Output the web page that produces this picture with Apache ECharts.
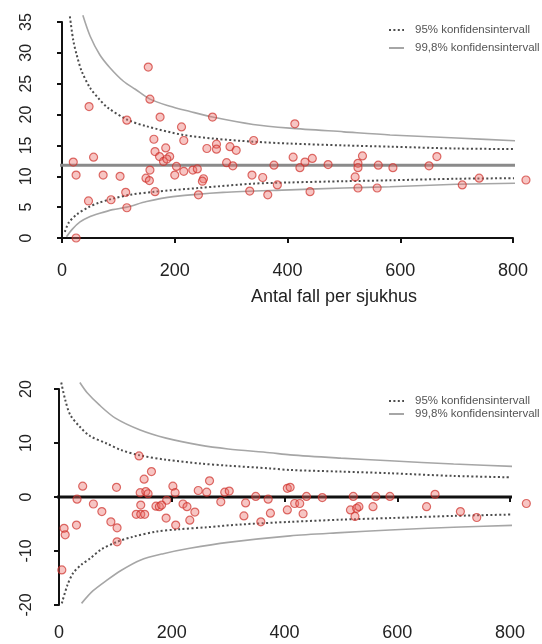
<!DOCTYPE html>
<html>
<head>
<meta charset="utf-8">
<script src="https://cdn.jsdelivr.net/npm/echarts@6/dist/echarts.min.js"></script>
<style>
  html, body { margin: 0; padding: 0; background: #ffffff; }
  #chart { width: 542px; height: 644px; }
</style>
</head>
<body>
<div id="chart"></div>
<script>
// ---------- Data ----------
const xTicks = [0, 200, 400, 600, 800];
const xAxisTitle = 'Antal fall per sjukhus';
const ciNames = ['95% konfidensintervall', '99,8% konfidensintervall'];

// Top chart: hospital points
const topX = [153,48,156,174,267,115,212,216,163,340,56,184,165,173,191,180,186,257,274,274,298,309,292,303,376,20,25,73,103,156,149,155,200,203,216,232,240,251,249,337,356,382,113,165,242,333,365,47,87,115,25,413,410,422,431,444,472,533,525,525,520,561,587,651,665,525,559,440,710,740,823];
const topY = [27.7,21.3,22.5,19.6,19.6,19.1,18.0,15.8,16.0,15.8,13.1,14.6,14.0,13.2,13.2,12.4,12.8,14.5,15.2,14.4,14.8,14.2,12.2,11.7,11.8,12.3,10.2,10.2,10.0,11.0,9.7,9.3,10.2,11.6,10.8,11.0,11.2,9.6,9.2,10.2,9.8,8.6,7.4,7.5,7.0,7.6,7.0,6.0,6.2,4.9,0.0,18.5,13.1,11.4,12.3,12.9,11.9,13.3,12.1,11.4,9.9,11.8,11.4,11.7,13.2,8.1,8.1,7.5,8.6,9.7,9.4];
const topMean = 11.8;
const topMeanX = [-27, 851];

// Top chart: funnel limits
const topUp95X = [14, 20, 26, 35, 50, 65, 80, 115, 150, 215, 270, 340, 404, 500, 582, 700, 818];
const topUp95Y = [35.9, 32.0, 29.7, 27.0, 24.3, 22.6, 21.2, 19.2, 18.1, 16.7, 16.1, 15.6, 15.3, 15.0, 14.8, 14.5, 14.4];
const topUp998X = [37, 50, 67, 85, 109, 130, 156, 190, 227, 267, 339, 404, 500, 582, 700, 818];
const topUp998Y = [36.1, 32.7, 29.7, 27.6, 25.4, 24.1, 22.5, 21.4, 20.5, 19.6, 18.4, 17.8, 17.2, 16.7, 16.2, 15.7];
const topLo95X = [5, 12, 26, 47, 65, 87, 120, 165, 242, 339, 404, 500, 582, 700, 818];
const topLo95Y = [1.0, 2.5, 3.8, 5.0, 5.7, 6.3, 7.0, 7.5, 8.1, 8.8, 9.0, 9.2, 9.35, 9.6, 9.7];
const topLo998X = [8, 18, 32, 48, 67, 90, 115, 150, 197, 286, 404, 500, 582, 700, 818];
const topLo998Y = [0.2, 1.4, 2.6, 3.4, 4.0, 4.6, 5.0, 5.9, 6.7, 7.4, 7.8, 8.1, 8.3, 8.7, 8.9];

// Bottom chart: hospital points
const botX = [142,164,151,42,102,202,267,144,154,206,247,262,294,302,405,32,61,76,92,103,31,9,11,103,5,145,137,145,152,172,178,191,190,220,227,241,232,207,287,331,349,371,328,375,358,405,667,410,418,427,433,439,467,522,562,587,517,528,532,525,557,652,712,741,829,158,182];
const botY = [7.6,4.7,3.3,2.0,1.8,2.0,3.0,0.8,1.0,0.8,1.2,0.9,0.9,1.1,1.6,-0.4,-1.3,-2.7,-4.6,-5.7,-5.2,-5.8,-7.0,-8.3,-13.5,-1.5,-3.2,-3.2,-3.2,-1.7,-1.8,-0.6,-3.9,-1.3,-1.8,-2.8,-4.3,-5.2,-0.9,-1.1,0.1,-0.4,-3.5,-3.0,-4.6,-2.4,0.5,1.8,-1.2,-1.2,-3.1,0.1,-0.1,0.1,0.1,0.1,-2.4,-2.1,-1.8,-3.6,-1.8,-1.8,-2.7,-3.8,-1.2,0.6,-1.5];
const botMean = 0;
const botMeanX = [-16, 856];

// Bottom chart: funnel limits
const botUp95X = [4, 11, 20, 37, 55, 85, 110, 144, 190, 250, 300, 374, 410, 500, 587, 700, 823];
const botUp95Y = [21.2, 18.0, 15.2, 13.0, 11.3, 9.9, 8.7, 7.7, 6.9, 6.2, 5.8, 5.3, 5.0, 4.7, 4.4, 3.9, 3.6];
const botUp998X = [37, 50, 72, 100, 144, 190, 250, 300, 374, 410, 500, 587, 700, 823];
const botUp998Y = [21.2, 19.3, 17.0, 14.6, 12.4, 10.9, 9.6, 8.9, 8.2, 7.8, 7.2, 6.7, 6.1, 5.6];
const botLo95X = [5, 15, 25, 40, 55, 75, 103, 130, 173, 210, 262, 320, 410, 500, 587, 700, 823];
const botLo95Y = [-19.7, -16.3, -14.1, -12.5, -11.4, -9.7, -8.3, -7.4, -6.4, -6.0, -5.6, -5.1, -4.6, -4.2, -3.9, -3.5, -3.2];
const botLo998X = [40, 60, 85, 110, 144, 185, 232, 300, 410, 500, 587, 700, 823];
const botLo998Y = [-19.7, -17.4, -15.4, -13.6, -11.7, -10.5, -9.5, -8.4, -7.2, -6.6, -6.1, -5.6, -5.2];

// ---------- Build ----------
function zip(xs, ys) { return xs.map((x, i) => [x, ys[i]]); }

const FONT = 'Liberation Sans, Arial, sans-serif';
const style95 = { color: '#4d4d4d', width: 2, type: [2, 2.4] };
const style998 = { color: '#a6a6a6', width: 1.6, type: 'solid' };

function ciSeries(name, xi, xs, ys, ls) {
  return {
    name: name, type: 'line', xAxisIndex: xi, yAxisIndex: xi,
    data: zip(xs, ys), smooth: 0.3,
    symbol: 'none', clip: false, lineStyle: ls, itemStyle: { color: ls.color },
    silent: true, z: 2
  };
}
function refSeries(xi, xs, y, color) {
  return {
    type: 'line', xAxisIndex: xi, yAxisIndex: xi,
    data: xs.map(x => [x, y]), symbol: 'none', clip: false,
    lineStyle: { color: color, width: 3 }, silent: true, z: 1
  };
}
function pointSeries(xi, xs, ys) {
  return {
    type: 'scatter', xAxisIndex: xi, yAxisIndex: xi,
    data: zip(xs, ys), symbolSize: 8, clip: false,
    itemStyle: { color: 'rgba(236,110,105,0.5)', borderColor: 'rgba(205,45,40,0.85)', borderWidth: 1.2 },
    z: 5
  };
}

const axisLine = { show: true, lineStyle: { color: '#111', width: 2 } };
const axisTick = { show: true, length: 5, lineStyle: { color: '#111', width: 2 } };

function xAx(gi, offset) {
  return {
    gridIndex: gi, type: 'value', min: xTicks[0], max: xTicks[xTicks.length - 1], interval: 200,
    offset: offset, axisLine: axisLine, axisTick: axisTick, splitLine: { show: false },
    axisLabel: { fontSize: 18, color: '#222', margin: 12, fontFamily: FONT }
  };
}
function yAx(gi, min, max, interval, offset) {
  return {
    gridIndex: gi, type: 'value', min: min, max: max, interval: interval,
    offset: offset, axisLine: axisLine, axisTick: axisTick, splitLine: { show: false },
    axisLabel: { fontSize: 16, color: '#222', margin: 7, rotate: 90, fontFamily: FONT }
  };
}
function legend(top, gap) {
  return {
    data: ciNames, orient: 'vertical', left: 383, top: top,
    itemWidth: 15, itemHeight: 12, itemGap: gap,
    itemStyle: { opacity: 0 },
    textStyle: { fontSize: 11.5, color: '#555', fontFamily: FONT, padding: [0, 0, 0, 6] },
    selectedMode: false
  };
}

const option = {
  animation: false,
  backgroundColor: '#ffffff',
  grid: [
    { left: 62, top: 22, width: 451, height: 216 },
    { left: 59, top: 389, width: 451, height: 216 }
  ],
  xAxis: [xAx(0, 12), xAx(1, 7)],
  yAxis: [yAx(0, 0, 35, 5, 20), yAx(1, -20, 20, 10, 17)],
  legend: [legend(19, 6), legend(390, 1)],
  graphic: [{
    type: 'text', left: 251, top: 288,
    style: { text: xAxisTitle, font: '18px ' + FONT, fill: '#222' }
  }],
  series: [
    refSeries(0, topMeanX, topMean, '#8a8a8a'),
    ciSeries(ciNames[0], 0, topUp95X, topUp95Y, style95),
    ciSeries(ciNames[0], 0, topLo95X, topLo95Y, style95),
    ciSeries(ciNames[1], 0, topUp998X, topUp998Y, style998),
    ciSeries(ciNames[1], 0, topLo998X, topLo998Y, style998),
    pointSeries(0, topX, topY),
    refSeries(1, botMeanX, botMean, '#111'),
    ciSeries(ciNames[0], 1, botUp95X, botUp95Y, style95),
    ciSeries(ciNames[0], 1, botLo95X, botLo95Y, style95),
    ciSeries(ciNames[1], 1, botUp998X, botUp998Y, style998),
    ciSeries(ciNames[1], 1, botLo998X, botLo998Y, style998),
    pointSeries(1, botX, botY)
  ]
};

const chart = echarts.init(document.getElementById('chart'), null, { renderer: 'canvas' });
chart.setOption(option);
</script>
</body>
</html>
